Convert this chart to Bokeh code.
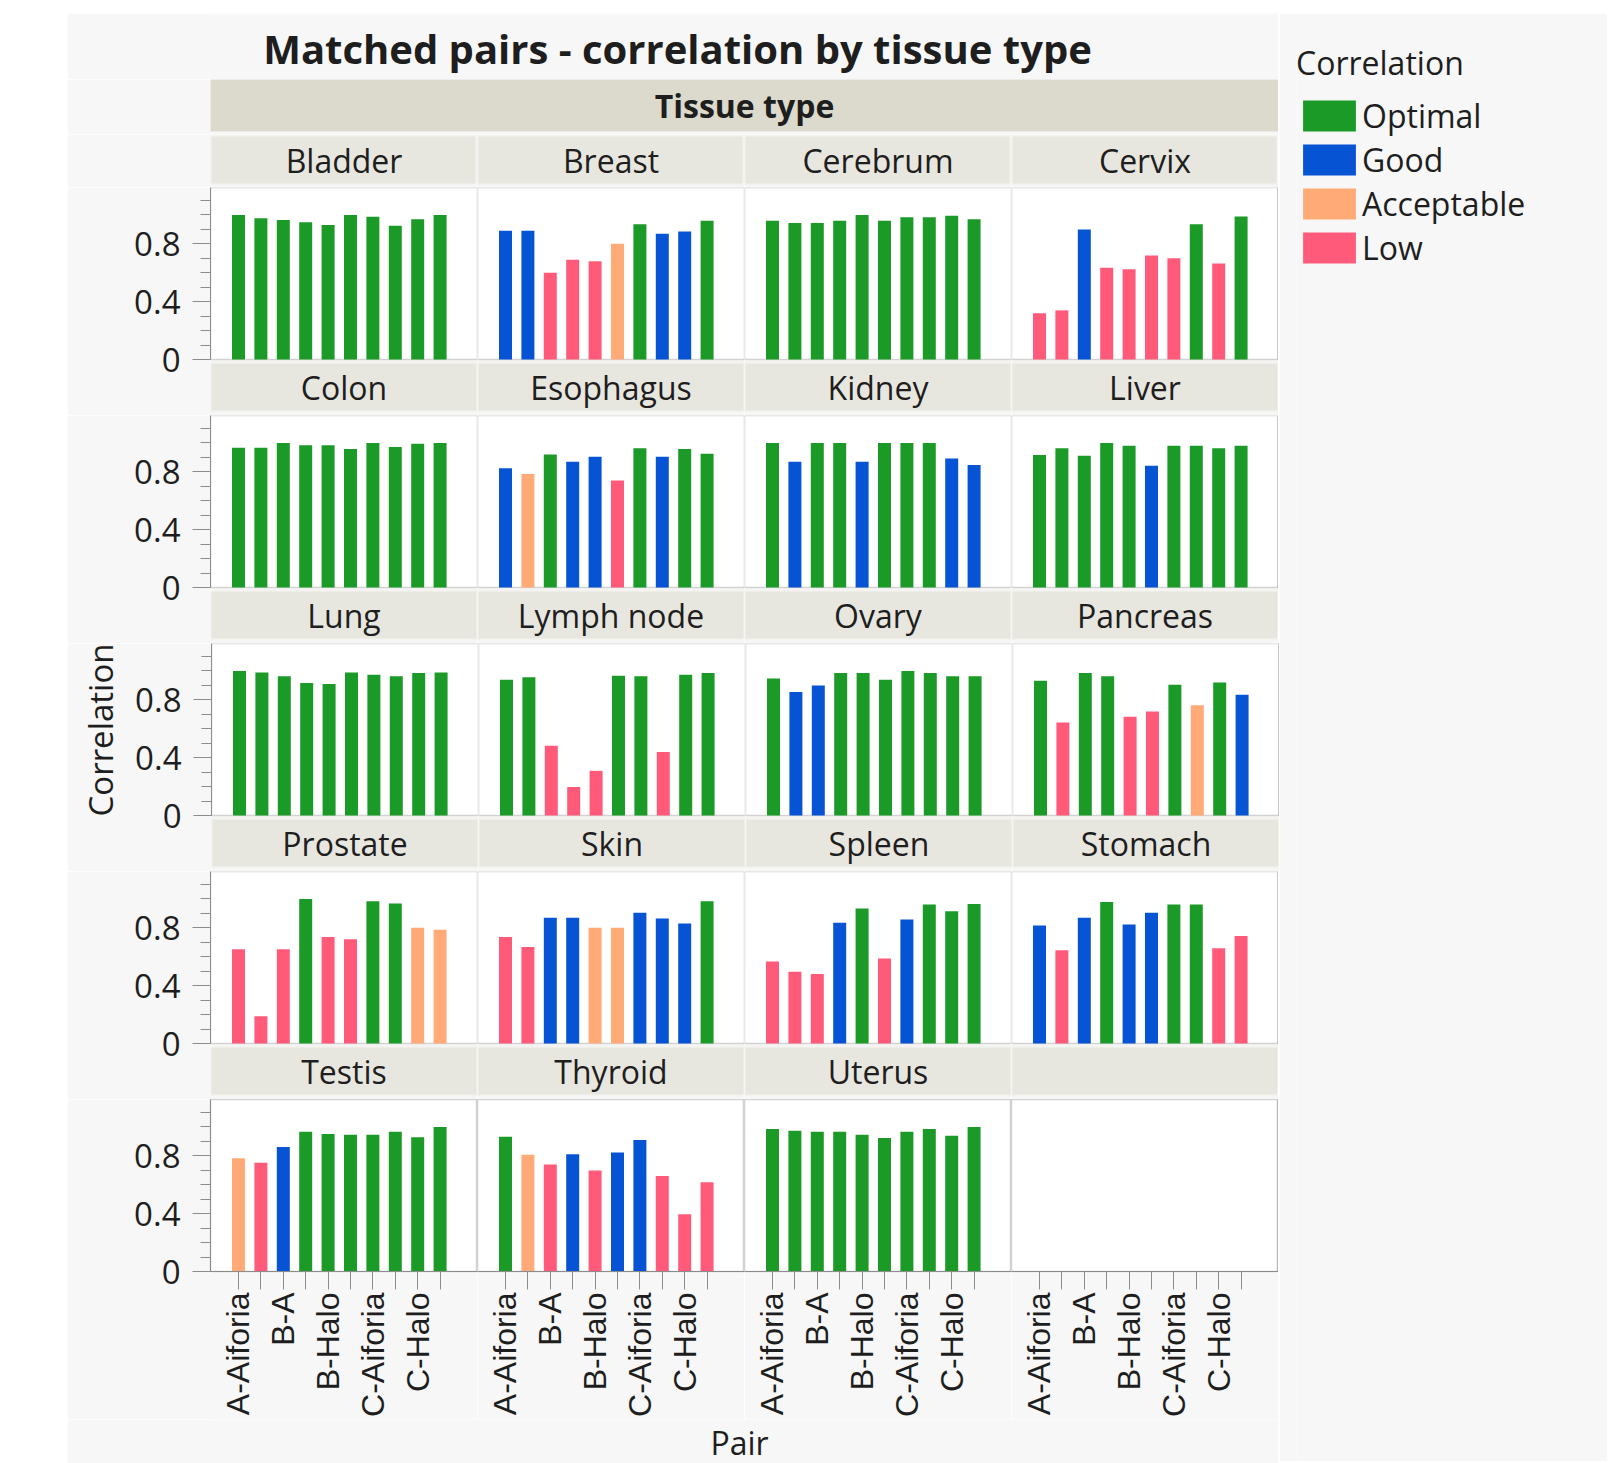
import math
from bokeh.plotting import figure
from bokeh.models import (ColumnDataSource, FixedTicker, Legend, LegendItem, Range1d,
                          Spacer, Grid, BoxAnnotation, Title)
from bokeh.layouts import row, column
from bokeh.transform import factor_cmap
from bokeh.embed import file_html
from bokeh.resources import INLINE
from bokeh.core.properties import value

# ---------------- data ----------------
title_text = "Matched pairs - correlation by tissue type"
facet_title = "Tissue type"
x_title = "Pair"
y_title = "Correlation"
legend_title = "Correlation"

pairs = ["A-Aiforia", "A-Halo", "B-A", "B-Aiforia", "B-Halo",
         "C-A", "C-Aiforia", "C-B", "C-Halo", "Halo-Aiforia"]
shown_pair_labels = ["A-Aiforia", "B-A", "B-Halo", "C-Aiforia", "C-Halo"]

levels = ["Optimal", "Good", "Acceptable", "Low"]
level_colors = ["#1b9a27", "#0653d4", "#ffaa77", "#ff5a79"]
level_codes = {"O": "Optimal", "G": "Good", "A": "Acceptable", "L": "Low"}

tissues = ["Bladder", "Breast", "Cerebrum", "Cervix",
           "Colon", "Esophagus", "Kidney", "Liver",
           "Lung", "Lymph node", "Ovary", "Pancreas",
           "Prostate", "Skin", "Spleen", "Stomach",
           "Testis", "Thyroid", "Uterus"]

bladder_r = [1.00, 0.977, 0.965, 0.95, 0.93, 1.00, 0.988, 0.925, 0.97, 1.00]
bladder_c = "OOOOOOOOOO"
breast_r = [0.89, 0.89, 0.60, 0.69, 0.68, 0.80, 0.935, 0.87, 0.885, 0.96]
breast_c = "GGLLLAOGGO"
cerebrum_r = [0.96, 0.945, 0.945, 0.96, 1.00, 0.96, 0.985, 0.985, 0.995, 0.97]
cerebrum_c = "OOOOOOOOOO"
cervix_r = [0.32, 0.34, 0.90, 0.635, 0.625, 0.72, 0.70, 0.935, 0.665, 0.99]
cervix_c = "LLGLLLLOLO"
colon_r = [0.967, 0.967, 1.00, 0.985, 0.985, 0.958, 1.00, 0.972, 0.995, 1.00]
colon_c = "OOOOOOOOOO"
esophagus_r = [0.825, 0.785, 0.92, 0.87, 0.905, 0.74, 0.963, 0.905, 0.958, 0.926]
esophagus_c = "GAOGGLOGOO"
kidney_r = [1.00, 0.87, 1.00, 1.00, 0.87, 1.00, 1.00, 1.00, 0.893, 0.847]
kidney_c = "OGOOGOOOGG"
liver_r = [0.916, 0.963, 0.912, 1.00, 0.98, 0.842, 0.98, 0.98, 0.963, 0.98]
liver_c = "OOOOOGOOOO"
lung_r = [1.00, 0.99, 0.963, 0.916, 0.91, 0.99, 0.974, 0.963, 0.986, 0.99]
lung_c = "OOOOOOOOOO"
lymph_r = [0.94, 0.956, 0.483, 0.197, 0.309, 0.967, 0.963, 0.44, 0.974, 0.986]
lymph_c = "OOLLLOOLOO"
ovary_r = [0.947, 0.854, 0.90, 0.986, 0.986, 0.94, 1.00, 0.986, 0.963, 0.963]
ovary_c = "OGGOOOOOOO"
pancreas_r = [0.933, 0.644, 0.986, 0.963, 0.684, 0.719, 0.905, 0.762, 0.921, 0.835]
pancreas_c = "OLOOLLOAOG"
prostate_r = [0.652, 0.188, 0.652, 1.00, 0.737, 0.721, 0.984, 0.968, 0.80, 0.787]
prostate_c = "LLLOLLOOAA"
skin_r = [0.737, 0.668, 0.87, 0.87, 0.80, 0.80, 0.904, 0.865, 0.831, 0.984]
skin_c = "LLGGAAGGGO"
spleen_r = [0.567, 0.497, 0.48, 0.835, 0.934, 0.588, 0.858, 0.961, 0.915, 0.966]
spleen_c = "LLLGOLGOOO"
stomach_r = [0.817, 0.645, 0.87, 0.979, 0.824, 0.904, 0.961, 0.961, 0.659, 0.744]
stomach_c = "GLGOGGOOLL"
testis_r = [0.783, 0.753, 0.862, 0.967, 0.951, 0.946, 0.946, 0.967, 0.928, 1.00]
testis_c = "ALGOOOOOOO"
thyroid_r = [0.932, 0.807, 0.741, 0.811, 0.699, 0.823, 0.909, 0.66, 0.396, 0.618]
thyroid_c = "OALGLGGLLL"
uterus_r = [0.986, 0.974, 0.967, 0.967, 0.946, 0.923, 0.967, 0.986, 0.939, 1.00]
uterus_c = "OOOOOOOOOO"

corr_values = [bladder_r, breast_r, cerebrum_r, cervix_r, colon_r, esophagus_r,
               kidney_r, liver_r, lung_r, lymph_r, ovary_r, pancreas_r,
               prostate_r, skin_r, spleen_r, stomach_r, testis_r, thyroid_r, uterus_r]
corr_classes = [bladder_c, breast_c, cerebrum_c, cervix_c, colon_c, esophagus_c,
                kidney_c, liver_c, lung_c, lymph_c, ovary_c, pancreas_c,
                prostate_c, skin_c, spleen_c, stomach_c, testis_c, thyroid_c, uterus_c]

y_ticks = [0, 0.4, 0.8]
y_minor_ticks = [0.0, 0.1, 0.2, 0.3, 0.4, 0.5, 0.6, 0.7, 0.8, 0.9, 1.0, 1.1]

# ---------------- style / layout ----------------
BG = "#f7f7f7"
STRIP = "#e8e7df"
BAND = "#dcdacd"
TXT = "#1e1e1e"
AXC = "#8c8c8c"
PLOT_LINE = "#d2d2d2"
FONT = "Open Sans"
NCOL, NROW = 4, 5
FW, FH = 267, 172
LEFT = 143
Y_TOP = 1.19
X0, X1 = -1.25, 10.67
PPU = FH / Y_TOP
GAP1, STRIP_H, GAP2 = 3, 49, 4
BELOW = GAP1 + STRIP_H + GAP2


def fig(fw, fh, xr=None, yr=None, **kw):
    p = figure(frame_width=fw, frame_height=fh,
               x_range=xr if xr is not None else Range1d(0, 1),
               y_range=yr if yr is not None else Range1d(0, 1),
               output_backend="svg", toolbar_location=None, **kw)
    p.min_border_left = 0
    p.min_border_right = 0
    p.min_border_top = 0
    p.min_border_bottom = 0
    p.border_fill_color = BG
    p.background_fill_color = BG
    p.outline_line_color = None
    for g in list(p.center):
        if isinstance(g, Grid):
            g.visible = False
    return p


def put_text(p, txt, size, bold=False, x=0.5, y=0.5, x_offset=0):
    p.text(x=[x], y=[y], text=[txt], text_align="center", text_baseline="middle",
           text_font=value(FONT), text_font_size=size, x_offset=x_offset,
           text_font_style="bold" if bold else "normal", text_color=TXT)


def style_y_axis(p, with_label):
    ax = p.yaxis[0]
    ax.ticker = FixedTicker(ticks=y_ticks, minor_ticks=y_minor_ticks)
    ax.bounds = (0, Y_TOP)
    ax.major_label_overrides = {0: "0"}
    ax.axis_line_color = AXC
    ax.major_tick_line_color = AXC
    ax.minor_tick_line_color = AXC
    ax.major_tick_out = 18
    ax.major_tick_in = 0
    ax.minor_tick_out = 10
    ax.minor_tick_in = 0
    ax.major_label_standoff = 12
    ax.major_label_text_font = FONT
    ax.major_label_text_font_size = "33px"
    ax.major_label_text_color = TXT
    if with_label:
        t = Title(text=y_title, align="right", vertical_align="middle", offset=0,
                  standoff=18, text_font=FONT, text_font_size="33px",
                  text_font_style="normal", text_color=TXT)
        p.add_layout(t, "left")


# title
title_fig = fig(NCOL * FW, 66, x_axis_location=None, y_axis_location=None)
title_fig.min_border_left = LEFT
put_text(title_fig, title_text, "40px", bold=True, y=0.47, x_offset=-67)

# facet band
band_fig = fig(NCOL * FW, 52, x_axis_location=None, y_axis_location=None)
band_fig.min_border_left = LEFT
band_fig.min_border_bottom = 3
band_fig.background_fill_color = BAND
put_text(band_fig, facet_title, "32px", bold=True)

rows = [title_fig, band_fig]

# first row of strip headers
strip_row = []
for c in range(NCOL):
    s = fig(FW, STRIP_H, x_axis_location=None, y_axis_location=None)
    s.min_border_left = LEFT if c == 0 else 0
    s.min_border_top = 1
    s.min_border_bottom = 3
    s.background_fill_color = STRIP
    s.outline_line_color = "#f3f3ef"
    s.outline_line_width = 2
    put_text(s, tissues[c], "32px")
    strip_row.append(s)
rows.append(row(*strip_row))

pair_overrides = {i: (pairs[i] if pairs[i] in shown_pair_labels else "") for i in range(len(pairs))}

for r in range(NROW):
    panel_row = []
    last = (r == NROW - 1)
    for c in range(NCOL):
        idx = r * NCOL + c
        if last:
            p = fig(FW, FH, Range1d(X0, X1), Range1d(0, Y_TOP),
                    x_axis_location="below", y_axis_location="left" if c == 0 else None)
            p.background_fill_color = "white"
            p.outline_line_color = PLOT_LINE
            p.outline_line_width = 1.5
            p.min_border_bottom = 145
        else:
            p = fig(FW, FH + BELOW, Range1d(X0, X1), Range1d(-BELOW / PPU, Y_TOP),
                    x_axis_location=None, y_axis_location="left" if c == 0 else None)
            p.add_layout(BoxAnnotation(bottom=0, top=Y_TOP, fill_color="white", fill_alpha=1,
                                       line_color=PLOT_LINE, line_alpha=1, line_width=1.5,
                                       level="underlay"))
            s_top = -GAP1 / PPU
            s_bot = -(GAP1 + STRIP_H) / PPU
            p.add_layout(BoxAnnotation(bottom=s_bot, top=s_top, fill_color=STRIP, fill_alpha=1,
                                       line_color="#f3f3ef", line_alpha=1, line_width=2,
                                       level="underlay"))
            nxt = (r + 1) * NCOL + c
            if nxt < len(tissues):
                put_text(p, tissues[nxt], "32px", x=(X0 + X1) / 2, y=(s_top + s_bot) / 2)
        p.min_border_left = LEFT if c == 0 else 0

        if idx < len(tissues):
            src = ColumnDataSource(dict(
                x=list(range(len(pairs))),
                pair=pairs,
                corr=corr_values[idx],
                level=[level_codes[k] for k in corr_classes[idx]],
            ))
            p.vbar(x="x", top="corr", width=0.58, source=src, line_color=None,
                   fill_color=factor_cmap("level", palette=level_colors, factors=levels))
        if c == NCOL - 1:
            p.segment(x0=[X1], y0=[0], x1=[X1], y1=[Y_TOP], line_color="#9a9a9a", line_width=2)
        if c == 0:
            style_y_axis(p, with_label=(r == 2))
        if last:
            ax = p.xaxis[0]
            ax.ticker = FixedTicker(ticks=list(range(len(pairs))))
            ax.major_label_overrides = pair_overrides
            ax.major_label_orientation = math.pi / 2
            ax.axis_line_color = AXC
            ax.major_tick_line_color = AXC
            ax.major_tick_out = 18
            ax.major_tick_in = 0
            ax.minor_tick_out = 0
            ax.major_label_standoff = 3
            ax.major_label_text_font = "Liberation Sans"
            ax.major_label_text_font_size = "32px"
            ax.major_label_text_color = TXT
        panel_row.append(p)
    rows.append(row(*panel_row))

pair_fig = fig(NCOL * FW, 45, x_axis_location=None, y_axis_location=None)
pair_fig.min_border_left = LEFT
put_text(pair_fig, x_title, "32px", x_offset=-5, y=0.5)
rows.append(pair_fig)

left_col = column(*rows)

# legend
T = 28
LL = 17
leg_fig = fig(328 - LL, 1448 - T, x_axis_location=None, y_axis_location=None)
leg_fig.min_border_top = T
leg_fig.min_border_left = LL
items = []
for lev, col in zip(levels, level_colors):
    rr = leg_fig.vbar(x=[-5], top=[-5], width=0.5, fill_color=col, line_color=None)
    items.append(LegendItem(label=lev, renderers=[rr]))
legend = Legend(items=items, title=legend_title, location="top_left",
                glyph_width=66, glyph_height=39, label_height=39, label_standoff=0,
                spacing=1, padding=0, margin=0, border_line_color=None,
                background_fill_alpha=0, title_standoff=10,
                title_text_font=FONT, title_text_font_size="32px",
                title_text_font_style="normal", title_text_color=TXT,
                label_text_font=FONT, label_text_font_size="32px", label_text_color=TXT)
leg_fig.add_layout(legend)

content = row(left_col, leg_fig)
page = column(Spacer(width=1606, height=13),
              row(Spacer(width=67, height=1448), content))

open("out.html", "w").write(file_html(page, INLINE))
